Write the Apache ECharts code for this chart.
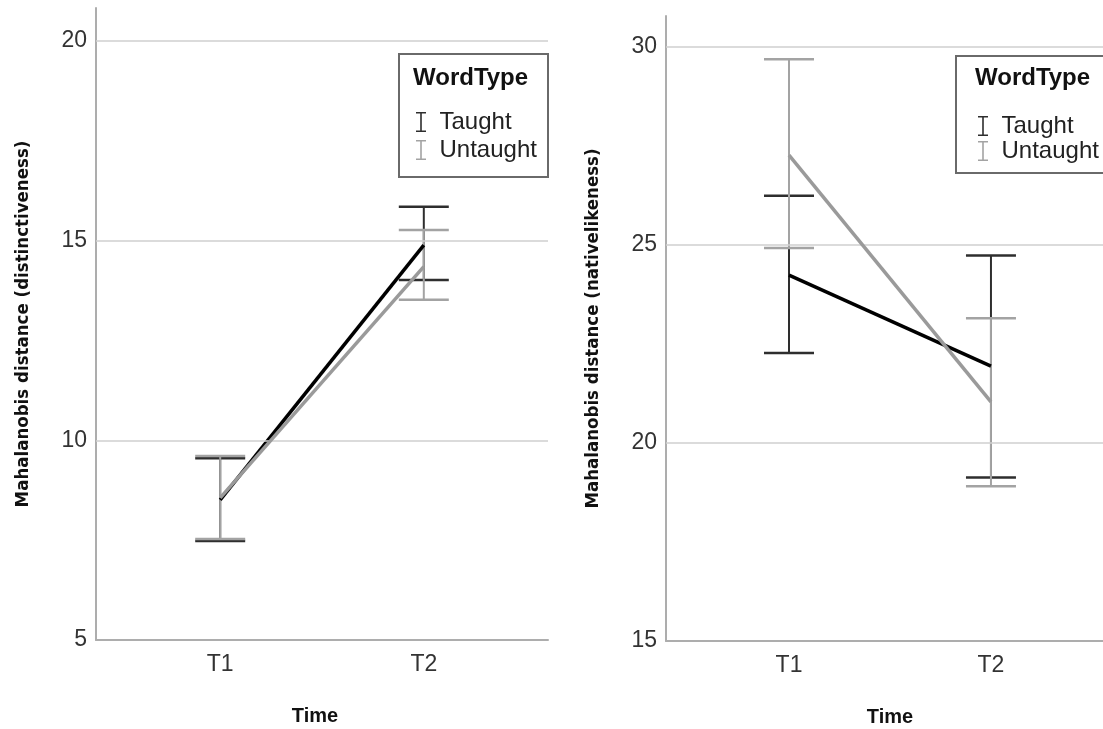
<!DOCTYPE html>
<html>
<head>
<meta charset="utf-8">
<title>Mahalanobis distance by Time and WordType</title>
<script src="https://cdn.jsdelivr.net/npm/echarts@6/dist/echarts.min.js"></script>
<style>
  html, body { margin: 0; padding: 0; background: #ffffff; overflow: hidden; }
  #chart { width: 1103px; height: 729px; }
</style>
</head>
<body>
<div id="chart"></div>
<script>
// Time points shown on both panels
const categories = ['T1', 'T2'];
const groupNames = ['Taught', 'Untaught'];

// Left panel: distinctiveness (means with error-bar ends)
const taughtMeanD = [8.51, 14.89];
const taughtLowD = [7.48, 14.02];
const taughtHighD = [9.55, 15.85];
const untaughtMeanD = [8.56, 14.35];
const untaughtLowD = [7.53, 13.52];
const untaughtHighD = [9.61, 15.27];
const ticksD = [5, 10, 15, 20];

// Right panel: nativelikeness
const taughtMeanN = [24.24, 21.94];
const taughtLowN = [22.27, 19.13];
const taughtHighN = [26.24, 24.73];
const untaughtMeanN = [27.27, 21.04];
const untaughtLowN = [24.92, 18.91];
const untaughtHighN = [29.69, 23.15];
const ticksN = [15, 20, 25, 30];

const FONT = "'Liberation Sans', Arial, sans-serif";
const NARROW = "'Liberation Sans Narrow', 'DejaVu Sans Condensed', 'Liberation Sans', sans-serif";
const TAUGHT = '#000000';
const UNTAUGHT = '#9a9a9a';
const TAUGHT_BAR = '#2e2e2e';
const UNTAUGHT_BAR = '#a3a3a3';
const AXIS = '#adadad';
const GRIDLINE = '#cfcfcf';
const ICON = 'path://M0,0H10V1.6H5.8V18.4H10V20H0V18.4H4.2V1.6H0Z';

const chart = echarts.init(document.getElementById('chart'));

function errorBar(color) {
  return function (params, api) {
    const x = api.value(0);
    const lo = api.coord([x, api.value(1)]);
    const hi = api.coord([x, api.value(2)]);
    const hw = 25;
    return {
      type: 'group',
      children: [
        { type: 'line', shape: { x1: lo[0], y1: lo[1], x2: hi[0], y2: hi[1] },
          style: { stroke: color, lineWidth: 2 } },
        { type: 'line', shape: { x1: hi[0] - hw, y1: hi[1], x2: hi[0] + hw, y2: hi[1] },
          style: { stroke: color, lineWidth: 2.5 } },
        { type: 'line', shape: { x1: lo[0] - hw, y1: lo[1], x2: lo[0] + hw, y2: lo[1] },
          style: { stroke: color, lineWidth: 2.5 } }
      ]
    };
  };
}

function pairs(a) { return categories.map((c, i) => [i, a[i]]); }
function ranges(lo, hi) { return categories.map((c, i) => [i, lo[i], hi[i]]); }

function xAxisFor(gridIndex, min, max, namePad) {
  return {
    type: 'value', gridIndex: gridIndex, min: min, max: max,
    name: 'Time', nameLocation: 'middle', nameGap: 66,
    nameTextStyle: { fontFamily: FONT, fontWeight: 'bold', fontSize: 20, color: '#111', padding: [0, namePad, 0, 0] },
    axisLine: { show: true, onZero: false, lineStyle: { color: AXIS, width: 2 } },
    axisTick: { show: false },
    splitLine: { show: false },
    axisLabel: {
      customValues: categories.map((c, i) => i),
      formatter: v => categories[Math.round(v)],
      fontFamily: FONT, fontSize: 23, color: '#333', margin: 13
    }
  };
}

function yAxisFor(gridIndex, min, max, ticks, title) {
  return {
    type: 'value', gridIndex: gridIndex, min: min, max: max,
    name: title, nameLocation: 'middle', nameRotate: 90, nameGap: 63,
    nameTextStyle: { fontFamily: NARROW, fontWeight: 'bold', fontSize: 18.5, color: '#111' },
    axisLine: { show: true, onZero: false, lineStyle: { color: AXIS, width: 2 } },
    axisTick: { show: false },
    splitLine: { show: false },
    axisLabel: { customValues: ticks, fontFamily: FONT, fontSize: 23, color: '#333', margin: 9 }
  };
}

function panelSeries(idx, ticks, tMean, tLo, tHi, uMean, uLo, uHi) {
  return [
    {
      name: 'Taught bars', type: 'custom', xAxisIndex: idx, yAxisIndex: idx, z: 2,
      renderItem: errorBar(TAUGHT_BAR), encode: { x: 0, y: [1, 2] },
      data: ranges(tLo, tHi),
      markLine: {
        silent: true, symbol: 'none', label: { show: false },
        lineStyle: { color: GRIDLINE, width: 1.5, type: 'solid' },
        data: ticks.slice(1).map(v => ({ yAxis: v }))
      }
    },
    {
      name: 'Untaught bars', type: 'custom', xAxisIndex: idx, yAxisIndex: idx, z: 3,
      renderItem: errorBar(UNTAUGHT_BAR), encode: { x: 0, y: [1, 2] },
      data: ranges(uLo, uHi)
    },
    {
      name: 'Taught', type: 'line', xAxisIndex: idx, yAxisIndex: idx, z: 4,
      showSymbol: false, symbol: 'none',
      itemStyle: { color: TAUGHT_BAR },
      lineStyle: { color: TAUGHT, width: 3.5 },
      data: pairs(tMean)
    },
    {
      name: 'Untaught', type: 'line', xAxisIndex: idx, yAxisIndex: idx, z: 5,
      showSymbol: false, symbol: 'none',
      itemStyle: { color: UNTAUGHT_BAR },
      lineStyle: { color: UNTAUGHT, width: 3.5 },
      data: pairs(uMean)
    }
  ];
}

function legendFor(left, top, gap) {
  return {
    left: left, top: top, orient: 'vertical', itemGap: gap, z: 20, padding: 0,
    itemWidth: 11, itemHeight: 20, icon: ICON,
    selectedMode: false,
    data: groupNames,
    textStyle: { fontFamily: FONT, fontSize: 24, lineHeight: 24, color: '#222', padding: [0, 0, 0, 8] }
  };
}

function legendBox(x, y, w, h, titleLeft) {
  return [
    { type: 'rect', left: x, top: y, z: 10, silent: true,
      shape: { width: w, height: h },
      style: { fill: '#ffffff', stroke: '#6a6a6a', lineWidth: 2 } },
    { type: 'text', left: titleLeft, top: 66, z: 11, silent: true,
      style: { text: 'WordType', fontFamily: FONT, fontWeight: 'bold', fontSize: 24, fill: '#111' } }
  ];
}

const option = {
  animation: false,
  backgroundColor: '#ffffff',
  grid: [
    { left: 96, top: 8, width: 452, bottom: 89, outerBoundsMode: 'none', containLabel: false },
    { left: 666, top: 16, width: 452, bottom: 88, outerBoundsMode: 'none', containLabel: false }
  ],
  xAxis: [xAxisFor(0, -0.61, 1.61, 14), xAxisFor(1, -0.609, 1.629, 4)],
  yAxis: [
    yAxisFor(0, 5, 20.83, ticksD, 'Mahalanobis distance (distinctiveness)'),
    yAxisFor(1, 15, 30.78, ticksN, 'Mahalanobis distance (nativelikeness)')
  ],
  legend: [legendFor(416, 110, 4), legendFor(978, 114, 1)],
  graphic: [].concat(legendBox(398, 53, 149, 123, 413), legendBox(955, 55, 149, 117, 975)),
  series: [].concat(
    panelSeries(0, ticksD, taughtMeanD, taughtLowD, taughtHighD, untaughtMeanD, untaughtLowD, untaughtHighD),
    panelSeries(1, ticksN, taughtMeanN, taughtLowN, taughtHighN, untaughtMeanN, untaughtLowN, untaughtHighN)
  )
};

chart.setOption(option);
</script>
</body>
</html>
